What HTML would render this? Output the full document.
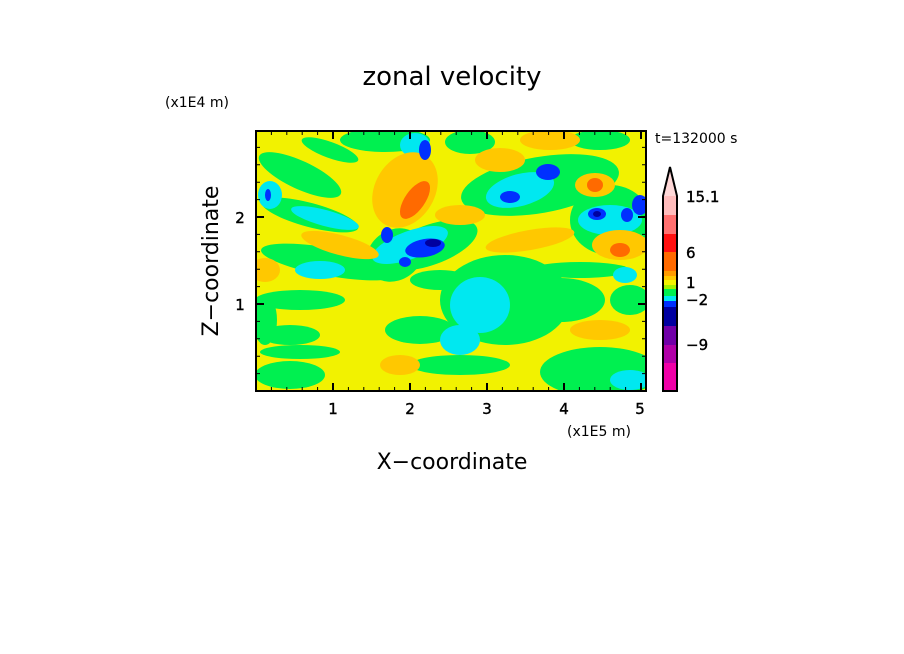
<!DOCTYPE html>
<html><head><meta charset="utf-8"><style>
html,body{margin:0;padding:0;background:#fff;}
svg{display:block;font-family:"DejaVu Sans","Liberation Sans",sans-serif;}
</style></head><body>
<svg width="904" height="654" viewBox="0 0 904 654" xmlns="http://www.w3.org/2000/svg">
<rect width="904" height="654" fill="#fff"/>
<text x="452" y="85" font-size="26" text-anchor="middle" fill="#000">zonal velocity</text>
<text x="165" y="107" font-size="14" fill="#000">(x1E4 m)</text>
<text x="655" y="143" font-size="14" fill="#000">t=132000 s</text>
<defs><clipPath id="c"><rect x="256" y="131" width="390" height="260"/></clipPath></defs>
<g clip-path="url(#c)">
<rect x="256" y="131" width="390" height="260" fill="#f2f200"/>
<g fill="#00f050">
<ellipse cx="505" cy="300" rx="65" ry="45"/>
<ellipse cx="560" cy="300" rx="45" ry="22"/>
<ellipse cx="600" cy="372" rx="60" ry="25"/>
<ellipse cx="540" cy="185" rx="80" ry="28" transform="rotate(-10 540 185)"/>
<ellipse cx="610" cy="220" rx="40" ry="35"/>
<ellipse cx="300" cy="175" rx="45" ry="14" transform="rotate(25 300 175)"/>
<ellipse cx="310" cy="215" rx="50" ry="12" transform="rotate(15 310 215)"/>
<ellipse cx="330" cy="262" rx="70" ry="14" transform="rotate(10 330 262)"/>
<ellipse cx="300" cy="300" rx="45" ry="10"/>
<ellipse cx="290" cy="335" rx="30" ry="10"/>
<ellipse cx="290" cy="375" rx="35" ry="14"/>
<ellipse cx="300" cy="352" rx="40" ry="7"/>
<ellipse cx="265" cy="320" rx="12" ry="25"/>
<ellipse cx="420" cy="330" rx="35" ry="14"/>
<ellipse cx="395" cy="255" rx="30" ry="25" transform="rotate(-35 395 255)"/>
<ellipse cx="430" cy="245" rx="50" ry="20" transform="rotate(-20 430 245)"/>
<ellipse cx="385" cy="140" rx="45" ry="12"/>
<ellipse cx="600" cy="140" rx="30" ry="10"/>
<ellipse cx="460" cy="365" rx="50" ry="10"/>
<ellipse cx="440" cy="280" rx="30" ry="10"/>
<ellipse cx="580" cy="270" rx="50" ry="8"/>
<ellipse cx="630" cy="300" rx="20" ry="15"/>
<ellipse cx="470" cy="142" rx="25" ry="12"/>
<ellipse cx="330" cy="150" rx="30" ry="8" transform="rotate(20 330 150)"/>
</g>
<g fill="#00e8f0">
<ellipse cx="480" cy="305" rx="30" ry="28"/>
<ellipse cx="460" cy="340" rx="20" ry="15"/>
<ellipse cx="520" cy="190" rx="35" ry="16" transform="rotate(-15 520 190)"/>
<ellipse cx="610" cy="220" rx="32" ry="15"/>
<ellipse cx="320" cy="270" rx="25" ry="9"/>
<ellipse cx="325" cy="218" rx="35" ry="8" transform="rotate(15 325 218)"/>
<ellipse cx="410" cy="245" rx="40" ry="14" transform="rotate(-20 410 245)"/>
<ellipse cx="270" cy="195" rx="12" ry="14"/>
<ellipse cx="630" cy="380" rx="20" ry="10"/>
<ellipse cx="415" cy="145" rx="15" ry="12"/>
<ellipse cx="625" cy="275" rx="12" ry="8"/>
</g>
<g fill="#ffc800">
<ellipse cx="405" cy="190" rx="30" ry="40" transform="rotate(30 405 190)"/>
<ellipse cx="340" cy="245" rx="40" ry="10" transform="rotate(15 340 245)"/>
<ellipse cx="460" cy="215" rx="25" ry="10"/>
<ellipse cx="500" cy="160" rx="25" ry="12"/>
<ellipse cx="550" cy="140" rx="30" ry="10"/>
<ellipse cx="600" cy="330" rx="30" ry="10"/>
<ellipse cx="620" cy="245" rx="28" ry="15"/>
<ellipse cx="595" cy="185" rx="20" ry="12"/>
<ellipse cx="265" cy="270" rx="15" ry="12"/>
<ellipse cx="400" cy="365" rx="20" ry="10"/>
<ellipse cx="530" cy="240" rx="45" ry="10" transform="rotate(-10 530 240)"/>
</g>
<g fill="#ff6a00">
<ellipse cx="415" cy="200" rx="10" ry="22" transform="rotate(35 415 200)"/>
<ellipse cx="620" cy="250" rx="10" ry="7"/>
<ellipse cx="595" cy="185" rx="8" ry="7"/>
</g>
<g fill="#0030ff">
<ellipse cx="425" cy="248" rx="20" ry="9" transform="rotate(-10 425 248)"/>
<ellipse cx="387" cy="235" rx="6" ry="8"/>
<ellipse cx="405" cy="262" rx="6" ry="5"/>
<ellipse cx="548" cy="172" rx="12" ry="8"/>
<ellipse cx="510" cy="197" rx="10" ry="6"/>
<ellipse cx="597" cy="214" rx="9" ry="6"/>
<ellipse cx="627" cy="215" rx="6" ry="7"/>
<ellipse cx="640" cy="205" rx="8" ry="10"/>
<ellipse cx="425" cy="150" rx="6" ry="10"/>
<ellipse cx="268" cy="195" rx="3" ry="6"/>
</g>
<g fill="#0000a0">
<ellipse cx="433" cy="243" rx="8" ry="4"/>
<ellipse cx="597" cy="214" rx="4" ry="3"/>
</g>
</g>
<rect x="256" y="131" width="390" height="260" fill="none" stroke="#000" stroke-width="2"/>
<g stroke="#000" stroke-width="1">
<path d="M271.4 391v-4M286.8 391v-4M302.2 391v-4M317.6 391v-4M348.4 391v-4M363.8 391v-4M379.2 391v-4M394.6 391v-4M425.4 391v-4M440.8 391v-4M456.2 391v-4M471.6 391v-4M502.4 391v-4M517.8 391v-4M533.2 391v-4M548.6 391v-4M579.4 391v-4M594.8 391v-4M610.2 391v-4M625.6 391v-4"/>
<path d="M271.4 131v4M286.8 131v4M302.2 131v4M317.6 131v4M348.4 131v4M363.8 131v4M379.2 131v4M394.6 131v4M425.4 131v4M440.8 131v4M456.2 131v4M471.6 131v4M502.4 131v4M517.8 131v4M533.2 131v4M548.6 131v4M579.4 131v4M594.8 131v4M610.2 131v4M625.6 131v4"/>
<path d="M256 373.6h4M256 356.2h4M256 338.8h4M256 321.4h4M256 286.6h4M256 269.2h4M256 251.8h4M256 234.4h4M256 199.6h4M256 182.2h4M256 164.8h4M256 147.4h4"/>
<path d="M646 373.6h-4M646 356.2h-4M646 338.8h-4M646 321.4h-4M646 286.6h-4M646 269.2h-4M646 251.8h-4M646 234.4h-4M646 199.6h-4M646 182.2h-4M646 164.8h-4M646 147.4h-4"/>
</g>
<g stroke="#000" stroke-width="2">
<path d="M333 391v-8M410 391v-8M487 391v-8M564 391v-8M641 391v-8M333 131v8M410 131v8M487 131v8M564 131v8M641 131v8"/>
<path d="M256 304h8M256 217h8M646 304h-8M646 217h-8"/>
</g>
<g font-size="15" fill="#000" text-anchor="middle" stroke="#000" stroke-width="0.4">
<text x="333" y="414">1</text><text x="410" y="414">2</text><text x="487" y="414">3</text><text x="564" y="414">4</text><text x="640" y="414">5</text>
<text x="240" y="310">1</text><text x="240" y="223">2</text>
</g>
<text x="567" y="436" font-size="14" fill="#000">(x1E5 m)</text>
<text x="452" y="469" font-size="22" text-anchor="middle" fill="#000">X−coordinate</text>
<text transform="translate(218 261) rotate(-90)" font-size="22" text-anchor="middle" fill="#000">Z−coordinate</text>
<g stroke="none">
<polygon points="663,196 670,167 677,196" fill="#ffd8d8"/>
<rect x="663" y="196" width="14" height="19" fill="#ffbcbc"/>
<rect x="663" y="215" width="14" height="19" fill="#ff7070"/>
<rect x="663" y="234" width="14" height="18" fill="#ff1010"/>
<rect x="663" y="252" width="14" height="19" fill="#ff6a00"/>
<rect x="663" y="271" width="14" height="5" fill="#ff9a00"/>
<rect x="663" y="276" width="14" height="4" fill="#ffc800"/>
<rect x="663" y="280" width="14" height="5" fill="#f2f200"/>
<rect x="663" y="285" width="14" height="4" fill="#a0f000"/>
<rect x="663" y="289" width="14" height="7" fill="#00f050"/>
<rect x="663" y="296" width="14" height="5" fill="#00e8f0"/>
<rect x="663" y="301" width="14" height="6" fill="#0030ff"/>
<rect x="663" y="307" width="14" height="19" fill="#0000a0"/>
<rect x="663" y="326" width="14" height="19" fill="#7000a8"/>
<rect x="663" y="345" width="14" height="18" fill="#b000a8"/>
<rect x="663" y="363" width="14" height="28" fill="#f000a8"/>
</g>
<path d="M663 391V196L670 167L677 196V391Z" fill="none" stroke="#000" stroke-width="2"/>
<g font-size="15" fill="#000" stroke="#000" stroke-width="0.4">
<text x="686" y="202">15.1</text>
<text x="686" y="258">6</text>
<text x="686" y="288">1</text>
<text x="686" y="305">−2</text>
<text x="686" y="350">−9</text>
</g>
</svg>
</body></html>
